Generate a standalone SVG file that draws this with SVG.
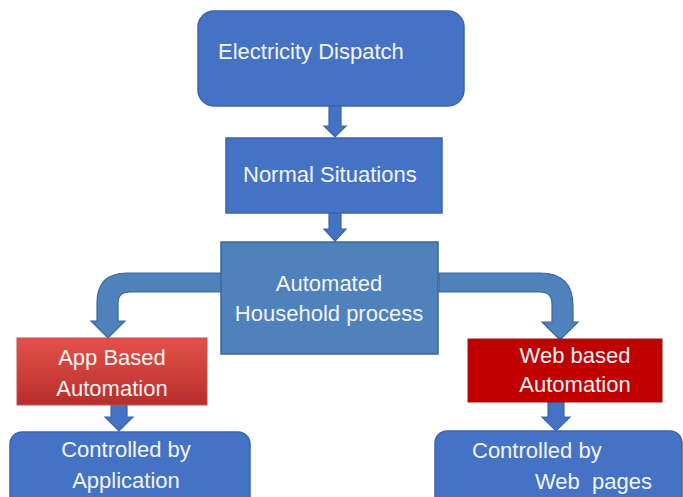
<svg xmlns="http://www.w3.org/2000/svg" width="683" height="497" viewBox="0 0 683 497">
<defs>
<linearGradient id="redGrad" x1="0" y1="0" x2="0" y2="1">
<stop offset="0" stop-color="#E4514C"/>
<stop offset="1" stop-color="#B72E2A"/>
</linearGradient>
</defs>
<style>
.blue{fill:#4472C4;stroke:#3A64AE;stroke-width:1.5}
.mid{fill:#4F81BD;stroke:#3B679B;stroke-width:1.5}
.t{font-family:"Liberation Sans",Arial,sans-serif;font-size:22px;fill:#F4F4F4}
.c{text-anchor:middle}
.arr{fill:#4F81BD;stroke:#3B679B;stroke-width:1.2}
.arrb{fill:#4472C4;stroke:#3A64AE;stroke-width:1.2}
</style>
<rect width="683" height="497" fill="#FFFFFF"/>
<g id="connectors">
<path class="arrb" d="M329,106 L341,106 L341,126 L346,126 L335,137 L324,126 L329,126 Z"/>
<path class="arrb" d="M329,213 L341,213 L341,229 L346,229 L335,241 L324,229 L329,229 Z"/>
<path class="arr" d="M222,273 L127,273 Q97,273 97,303 L97,321 L91,321 L108,338 L125,321 L118,321 L118,303 Q118,292 130,292 L222,292 Z"/>
<path class="arr" d="M439,273 L540,273 Q573,273 573,306 L573,322 L578,322 L560,340 L542,322 L552,322 L552,304 Q552,292 540,292 L439,292 Z"/>
<path class="arrb" d="M111,405 L127,405 L127,417 L133,417 L119,431 L105,417 L111,417 Z"/>
<path class="arrb" d="M548,402 L564,402 L564,417 L570,417 L556,431 L542,417 L548,417 Z"/>
</g>
<g id="electricity-dispatch">
<rect class="blue" x="198" y="11" width="266" height="95" rx="16"/>
<text class="t" x="218" y="59">Electricity Dispatch</text>
</g>
<g id="normal-situations">
<rect class="blue" x="226" y="138" width="216" height="75"/>
<text class="t" x="243" y="182">Normal Situations</text>
</g>
<g id="automated-household">
<rect class="mid" x="221" y="242" width="217" height="112"/>
<text class="t c" x="329" y="291">Automated</text>
<text class="t c" x="329" y="321">Household process</text>
</g>
<g id="app-based">
<rect x="17" y="338" width="190" height="67" fill="url(#redGrad)" stroke="#C0504D" stroke-width="1"/>
<text class="t c" x="112" y="365">App Based</text>
<text class="t c" x="112" y="396">Automation</text>
</g>
<g id="web-based">
<rect x="468" y="339" width="194" height="63" fill="#C00000" stroke="#8E1A1A" stroke-width="1"/>
<text class="t c" x="575" y="363">Web based</text>
<text class="t c" x="575" y="392">Automation</text>
</g>
<g id="controlled-application">
<rect class="blue" x="10" y="432" width="240" height="80" rx="12"/>
<text class="t c" x="126" y="457">Controlled by</text>
<text class="t c" x="126" y="488">Application</text>
</g>
<g id="controlled-web">
<rect class="blue" x="435" y="431" width="247" height="80" rx="12"/>
<text class="t" x="472" y="458">Controlled by</text>
<text class="t" x="535" y="489" xml:space="preserve">Web  pages</text>
</g>
</svg>
